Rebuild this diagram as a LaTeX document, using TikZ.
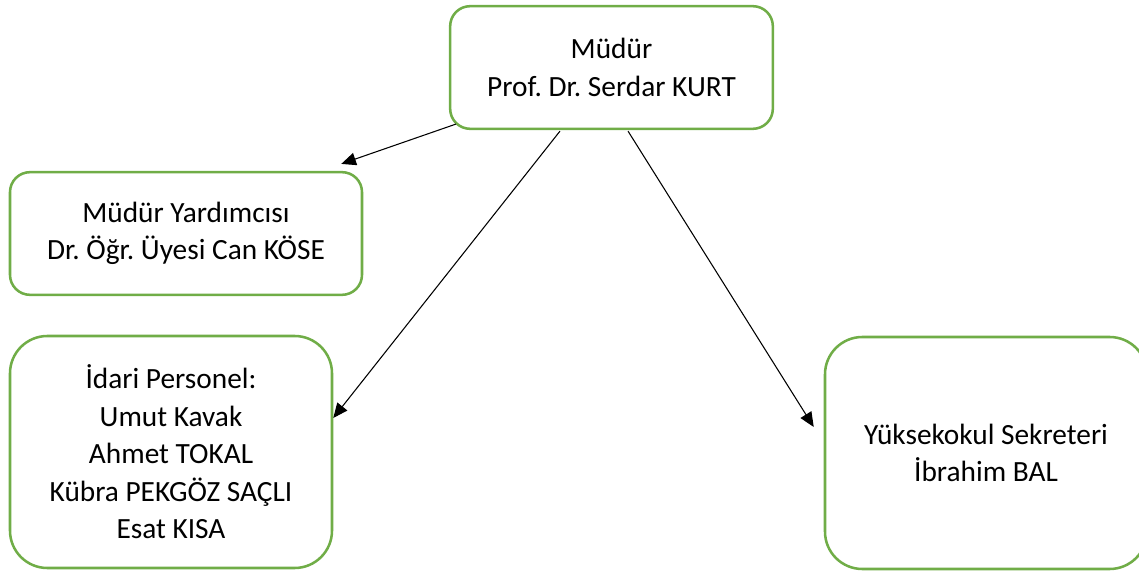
\documentclass[tikz,border=0pt]{standalone}
\usepackage{fontspec}
\setmainfont{Carlito}
\usepackage{tikz}
\usetikzlibrary{calc,arrows.meta,positioning}
\frenchspacing

\begin{document}
\begin{tikzpicture}[x=0.75pt,y=-0.75pt]
                                         \definecolor{boxgreen}{RGB}{112,173,71}
                                         \tikzstyle{box} = [draw=boxgreen,line width=1.9pt,fill=white,align=center,inner sep=0pt,font=\fontsize{22}{28.1}\selectfont]
                                         \tikzstyle{sbox} = [box,rounded corners=15pt,minimum height=92pt]
                                         \tikzstyle{bbox} = [box,rounded corners=28pt,minimum height=174pt]
                                         \tikzstyle{arr} = [-{Triangle[length=11pt,width=9.5pt]},line width=0.8pt,black]
                                         \useasboundingbox (0,0) rectangle (1139,573);

                                         \node[sbox,minimum width=242pt] (M) at (611.5,67.5) {Müdür\\Prof. Dr. Serdar KURT};
                                         \node[sbox,minimum width=264pt] (MY) at (186,233.5) {Müdür Yardımcısı\\Dr. Öğr. Üyesi Can KÖSE};
                                         \node[bbox,minimum width=241.5pt] (IP) at (171,452) {İdari Personel:\\Umut Kavak\\Ahmet TOKAL\\Kübra PEKGÖZ SAÇLI\\Esat KISA};
                                         \node[bbox,minimum width=241.5pt] (YS) at (986,453) {Yüksekokul Sekreteri\\İbrahim BAL};

                                         % oklar
                                         \draw[arr] ($(M.south west)+(7,-6)$) -- ($(MY.north east)+(-22,-7)$);
                                         \draw[arr] ($(M.south)+(-51.5,1)$) -- ($(IP.east)+(0,-34)$);
                                         \draw[arr] ($(M.south)+(16.5,1)$) -- ($(YS.west)+(-10,-26)$);

\end{tikzpicture}
\end{document}
